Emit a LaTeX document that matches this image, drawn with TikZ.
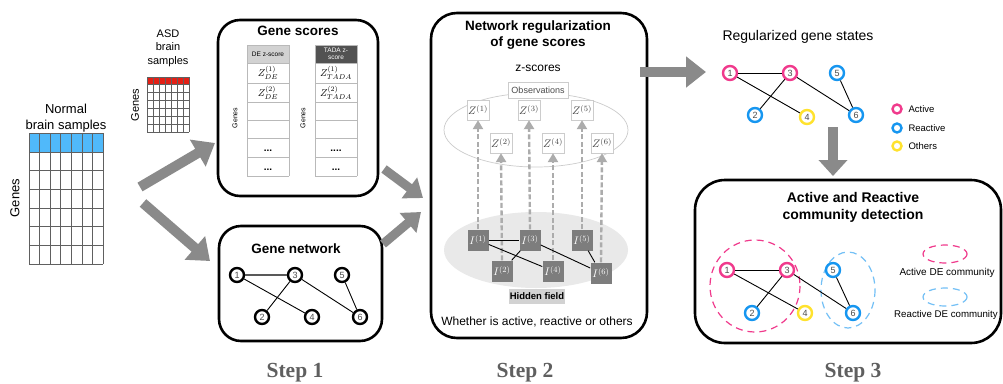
\documentclass[tikz,border=0pt]{standalone}
\usepackage{fontspec}
\setmainfont{Liberation Sans}
\newfontfamily\stepfont{Liberation Serif}
\usetikzlibrary{arrows.meta}
\definecolor{actpink}{RGB}{240,58,140}
\definecolor{reablue}{RGB}{22,150,240}
\definecolor{othyel}{RGB}{255,226,45}
\definecolor{normblue}{RGB}{80,185,250}
\definecolor{asdred}{RGB}{228,32,22}
\definecolor{flowgray}{RGB}{138,138,138}
\definecolor{steptext}{RGB}{95,95,95}
\definecolor{hidgray}{RGB}{125,125,125}
\newcommand{\fsz}[2]{\fontsize{#1}{#2}\selectfont}
\tikzset{
  panel/.style={draw, line width=2.6pt, rounded corners=22pt},
  ptitle/.style={font=\bfseries\fsz{13.5}{16.5}, align=center},
  gn/.style={circle, draw, line width=2.4pt, minimum size=14pt, inner sep=0pt,
             font=\fsz{9}{9}, text=gray!60!black},
  act/.style={gn, draw=actpink},
  rea/.style={gn, draw=reablue},
  oth/.style={gn, draw=othyel},
  lgd/.style={circle, draw, line width=2.4pt, minimum size=9pt, inner sep=0pt},
  edge/.style={line width=0.9pt},
  flow/.style={draw=flowgray, line width=10pt, -{Triangle[length=20pt,width=30pt]}},
  flowsm/.style={draw=flowgray, line width=9pt, -{Triangle[length=17pt,width=25pt]}},
  zbox/.style={draw=gray!40, fill=white, minimum width=22pt, minimum height=20pt,
               inner sep=0pt, font=\fsz{11}{11}, text=black!75},
  ibox/.style={fill=hidgray, minimum width=21pt, minimum height=21pt, inner sep=0pt,
               font=\fsz{11}{11}, text=white},
  updash/.style={draw=gray!65, line width=2.4pt, dash pattern=on 5pt off 2.5pt,
                 -{Triangle[length=9pt,width=10pt]}},
  cell/.style={draw=gray!55, line width=0.5pt},
  grid/.style={draw=gray!75!black, line width=0.5pt},
  rot/.style={rotate=90},
  dots/.style={font=\bfseries\fsz{10}{10}},
  steplbl/.style={font=\stepfont\bfseries\fsz{21.5}{24}, text=steptext},
  comm/.style={line width=1.2pt, dash pattern=on 7pt off 5pt},
}
\begin{document}
\begin{tikzpicture}[x=1pt, y=-1pt]
\useasboundingbox (0,0) rectangle (1003,383);
\fill[white] (0,0) rectangle (1003,383);

% ---------- expression matrices ----------
\node[font=\fsz{13}{16}, align=center] (normlbl) at (66,118) {Normal\\brain samples};
\fill[normblue] (29,133) rectangle (103,152);
\foreach \i in {0,...,7} \draw[grid] ({29+\i*74/7},133) -- ({29+\i*74/7},264);
\draw[grid] (29,133) -- (103,133);
\foreach \j in {0,...,6} \draw[grid] (29,{152+\j*112/6}) -- (103,{152+\j*112/6});
\node[rot, font=\fsz{13}{13}] (normgenes) at (15,198) {Genes};

\node[font=\fsz{11}{13.5}, align=center] (asdlbl) at (168,48) {ASD\\brain\\samples};
\fill[asdred] (147,77) rectangle (189,84);
\foreach \i in {0,...,7} \draw[grid] ({147+\i*6},77) -- ({147+\i*6},132);
\draw[grid] (147,77) -- (189,77);
\foreach \j in {0,...,6} \draw[grid] (147,{84+\j*8}) -- (189,{84+\j*8});
\node[rot, font=\fsz{11}{11}] (asdgenes) at (135,105) {Genes};

% ---------- flow arrows, step 1 ----------
\coordinate (f1s) at (140,187); \coordinate (f1e) at (215,143);
\coordinate (f2s) at (143,203); \coordinate (f2e) at (210,261);
\draw[flow] (f1s) -- (f1e);
\draw[flow] (f2s) -- (f2e);

% ---------- gene scores panel ----------
\draw[panel] (218,20) rectangle (378,196);
\node[ptitle] (gstitle) at (298,31) {Gene scores};
\fill[gray!35] (247,45) rectangle (289,63);
\fill[black!68] (315,45) rectangle (357,63);
\foreach \y in {45,63,83,102,120,138,157,176} {
  \draw[cell] (247,\y) -- (289,\y);
  \draw[cell] (315,\y) -- (357,\y);
}
\draw[cell] (247,45) -- (247,176); \draw[cell] (289,45) -- (289,176);
\draw[cell] (315,45) -- (315,176); \draw[cell] (357,45) -- (357,176);
\node[font=\fsz{6.5}{7}] (dehead) at (268,54) {DE z-score};
\node[font=\fsz{6.5}{7.5}, text=white, align=center] (tadahead) at (336,54) {TADA z-\\score};
\node[font=\fsz{10}{10}] (de1) at (268,73) {$Z^{(1)}_{DE}$};
\node[font=\fsz{10}{10}] (de2) at (268,92.5) {$Z^{(2)}_{DE}$};
\node[font=\fsz{10}{10}] (ta1) at (336,73) {$Z^{(1)}_{TADA}$};
\node[font=\fsz{10}{10}] (ta2) at (336,92.5) {$Z^{(2)}_{TADA}$};
\node[dots] (de5) at (268,151) {...};
\node[dots] (de6) at (268,170) {...};
\node[dots] (ta5) at (336,151) {....};
\node[dots] (ta6) at (336,170) {...};
\node[rot, font=\fsz{7}{7}] (gsgenes1) at (235,118) {Genes};
\node[rot, font=\fsz{7}{7}] (gsgenes2) at (303,118) {Genes};

% ---------- gene network panel ----------
\draw[panel] (219,226) rectangle (382,341);
\node[ptitle] (gntitle) at (296,249) {Gene network};
\node[gn] (g1) at (237,275) {1};
\node[gn] (g3) at (295,275) {3};
\node[gn] (g5) at (342,275) {5};
\node[gn] (g2) at (262,317) {2};
\node[gn] (g4) at (312,317) {4};
\node[gn] (g6) at (360,317) {6};
\draw[edge, gray!70!black, line width=1.4pt] (g1) -- (g3);
\draw[edge] (g1) -- (g4);
\draw[edge] (g3) -- (g2);
\draw[edge] (g3) -- (g6);
\draw[edge] (g5) -- (g6);

% ---------- flow arrows into step 2 ----------
\coordinate (f3s) at (384,169); \coordinate (f3e) at (423,198);
\coordinate (f4s) at (383,244); \coordinate (f4e) at (421,212);
\draw[flowsm] (f3s) -- (f3e);
\draw[flowsm] (f4s) -- (f4e);

% ---------- network regularization panel ----------
\draw[panel, rounded corners=26pt] (431,13) rectangle (647,338);
\node[ptitle] (nrtitle) at (538,35) {Network regularization\\of gene scores};
\node[font=\fsz{12}{12}] (zslbl) at (538,68) {z-scores};
\draw[gray!40, line width=0.7pt] (536,130) ellipse [x radius=92, y radius=37];
\fill[gray!17] (536,250) ellipse [x radius=92, y radius=38];

\node[zbox] (z1) at (478,110) {$Z^{(1)}$};
\node[zbox] (z3) at (529,110) {$Z^{(3)}$};
\node[zbox] (z5) at (582,110) {$Z^{(5)}$};
\node[zbox] (z2) at (501,143) {$Z^{(2)}$};
\node[zbox] (z4) at (553,143) {$Z^{(4)}$};
\node[zbox] (z6) at (602,143) {$Z^{(6)}$};
\node[draw=gray!40, fill=white, minimum width=60pt, minimum height=16pt, inner sep=0pt,
      font=\fsz{9}{9}, text=gray!60!black] (obs) at (538,90) {Observations};

\node[ibox] (i1) at (478,240) {$I^{(1)}$};
\node[ibox] (i3) at (530,240) {$I^{(3)}$};
\node[ibox] (i5) at (582,240) {$I^{(5)}$};
\node[ibox] (i2) at (502,271) {$I^{(2)}$};
\node[ibox] (i4) at (553,271) {$I^{(4)}$};
\node[ibox] (i6) at (601,273) {$I^{(6)}$};
\foreach \k in {1,...,6} \draw[updash] (i\k.north) -- (z\k.south);
\draw[edge] (i1) -- (i3);
\draw[edge] (i1) -- (i4);
\draw[edge] (i3) -- (i2);
\draw[edge] (i3) -- (i6);
\draw[edge] (i5) -- (i6);
\node[fill=gray!35, minimum width=56pt, minimum height=15pt, inner sep=0pt,
      font=\bfseries\fsz{9.5}{9.5}] (hidden) at (537,296) {Hidden field};
\node[font=\fsz{12}{12}] (whether) at (537,322) {Whether is active, reactive or others};

% ---------- flow arrows, step 3 ----------
\coordinate (f5s) at (640,72); \coordinate (f5e) at (706,72);
\coordinate (f6s) at (833,127); \coordinate (f6e) at (833,176);
\draw[flow] (f5s) -- (f5e);
\draw[draw=flowgray, line width=10pt, -{Triangle[length=16pt,width=28pt]}] (f6s) -- (f6e);

% ---------- regularized gene states ----------
\node[font=\fsz{14}{14}] (rgtitle) at (798,37) {Regularized gene states};
\node[act] (r1) at (730,73) {1};
\node[act] (r3) at (790,73) {3};
\node[rea] (r5) at (837,73) {5};
\node[rea] (r2) at (755,115) {2};
\node[oth] (r4) at (807,117) {4};
\node[rea] (r6) at (856,115) {6};
\draw[edge] (r1) -- (r3);
\draw[edge] (r1) -- (r4);
\draw[edge] (r3) -- (r2);
\draw[edge] (r3) -- (r6);
\draw[edge] (r5) -- (r6);
\node[lgd, draw=actpink] (la) at (897,109) {};
\node[lgd, draw=reablue] (lr) at (897,128) {};
\node[lgd, draw=othyel] (lo) at (897,146) {};
\node[anchor=west, font=\fsz{9.5}{9.5}] (lat) at (905,109) {Active};
\node[anchor=west, font=\fsz{9.5}{9.5}] (lrt) at (905,128) {Reactive};
\node[anchor=west, font=\fsz{9.5}{9.5}] (lot) at (905,146) {Others};

% ---------- community detection panel ----------
\draw[panel, rounded corners=30pt] (695,180) rectangle (1001,343);
\node[ptitle, font=\bfseries\fsz{14}{17}] (cdtitle) at (853,207) {Active and Reactive\\community detection};
\draw[comm, draw=actpink] (755,286) ellipse [x radius=45, y radius=46];
\draw[comm, draw=reablue!60] (848,290) ellipse [x radius=27, y radius=38];
\node[act] (c1) at (727,270) {1};
\node[act] (c3) at (787,270) {3};
\node[rea] (c5) at (833,270) {5};
\node[rea] (c2) at (752,313) {2};
\node[oth] (c4) at (805,313) {4};
\node[rea] (c6) at (853,313) {6};
\draw[edge] (c1) -- (c3);
\draw[edge] (c1) -- (c4);
\draw[edge] (c3) -- (c2);
\draw[edge] (c3) -- (c6);
\draw[edge] (c5) -- (c6);
\draw[comm, draw=actpink] (945,254) ellipse [x radius=22, y radius=9];
\node[anchor=west, font=\fsz{10}{10}] (adc) at (896,273) {Active DE community};
\draw[comm, draw=reablue!60] (945,297) ellipse [x radius=22, y radius=9];
\node[anchor=west, font=\fsz{9.7}{9.7}, inner sep=0pt] (rdc) at (894,315) {Reactive DE community};

% ---------- step labels ----------
\node[steplbl] (s1) at (295,373) {Step 1};
\node[steplbl] (s2) at (525,373) {Step 2};
\node[steplbl] (s3) at (853,373) {Step 3};
\end{tikzpicture}
\end{document}
